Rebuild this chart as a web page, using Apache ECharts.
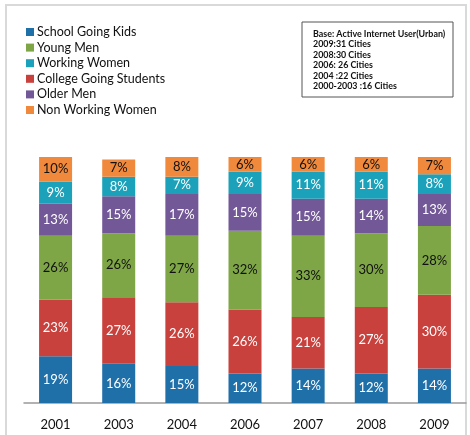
<!DOCTYPE html>
<html>
<head>
<meta charset="utf-8">
<script src="https://cdn.jsdelivr.net/npm/echarts@6/dist/echarts.min.js"></script>
<style>
  html, body { margin: 0; padding: 0; background: #fff; }
  #chart { width: 470px; height: 435px; }
</style>
</head>
<body>
<div id="chart"></div>
<script>
const years = ['2001', '2003', '2004', '2006', '2007', '2008', '2009'];

// stacked bottom -> top
const schoolKids = [19, 16, 15, 12, 14, 12, 14];
const collegeStudents = [23, 27, 26, 26, 21, 27, 30];
const youngMen = [26, 26, 27, 32, 33, 30, 28];
const olderMen = [13, 15, 17, 15, 15, 14, 13];
const workingWomen = [9, 8, 7, 9, 11, 11, 8];
const nonWorkingWomen = [10, 7, 8, 6, 6, 6, 7];

const legendOrder = ['School Going Kids', 'Young Men', 'Working Women',
    'College Going Students', 'Older Men', 'Non Working Women'];

const noteLines = [
    'Base: Active Internet User(Urban)',
    '2009:31 Cities',
    '2008:30 Cities',
    '2006: 26 Cities',
    '2004 :22 Cities',
    '2000-2003 :16 Cities'
];

const FONT = 'Lato';

function bar(name, data, color, labelColor) {
    return {
        name: name,
        type: 'bar',
        stack: 'all',
        barWidth: 33,
        data: data,
        itemStyle: { color: color },
        label: {
            show: true,
            position: 'inside',
            formatter: '{c}%',
            color: labelColor,
            fontFamily: FONT,
            fontSize: 13
        }
    };
}

const chart = echarts.init(document.getElementById('chart'), null, { renderer: 'canvas' });

const option = {
    animation: false,
    backgroundColor: '#fff',
    grid: { left: 24, right: 4, top: 157, bottom: 32 },
    legend: {
        data: legendOrder,
        orient: 'vertical',
        left: 26,
        top: 25.5,
        padding: 0,
        itemWidth: 8,
        itemHeight: 8,
        itemGap: 2.6,
        icon: 'rect',
        textStyle: { fontFamily: FONT, fontSize: 12.5, color: '#111', padding: [0, 0, 0, -2] }
    },
    xAxis: {
        type: 'category',
        data: years,
        axisTick: { show: false },
        axisLine: { lineStyle: { color: '#999', width: 1.5 } },
        axisLabel: { fontFamily: FONT, fontSize: 13, color: '#111', margin: 15 }
    },
    yAxis: {
        type: 'value',
        min: 0,
        max: 100,
        show: false
    },
    graphic: [
        {
            type: 'polyline',
            shape: { points: [[6, 435], [6, 5], [466, 5], [466, 435]] },
            style: { stroke: '#d9d9d9', lineWidth: 2, fill: null }
        },
        {
            type: 'rect',
            shape: { x: 302, y: 22, width: 151, height: 75 },
            style: { stroke: '#555', lineWidth: 1, fill: '#fff' }
        },
        {
            type: 'text',
            left: 313,
            top: 29,
            style: {
                text: noteLines.join('\n'),
                font: 'bold 8.9px ' + FONT,
                lineHeight: 10.4,
                fill: '#111'
            }
        }
    ],
    series: [
        bar('School Going Kids', schoolKids, '#1f6fa9', '#fff'),
        bar('College Going Students', collegeStudents, '#c9413d', '#fff'),
        bar('Young Men', youngMen, '#7ea646', '#111'),
        bar('Older Men', olderMen, '#735897', '#fff'),
        bar('Working Women', workingWomen, '#1ba1ba', '#fff'),
        bar('Non Working Women', nonWorkingWomen, '#f0893b', '#111')
    ]
};

chart.setOption(option);
</script>
</body>
</html>
